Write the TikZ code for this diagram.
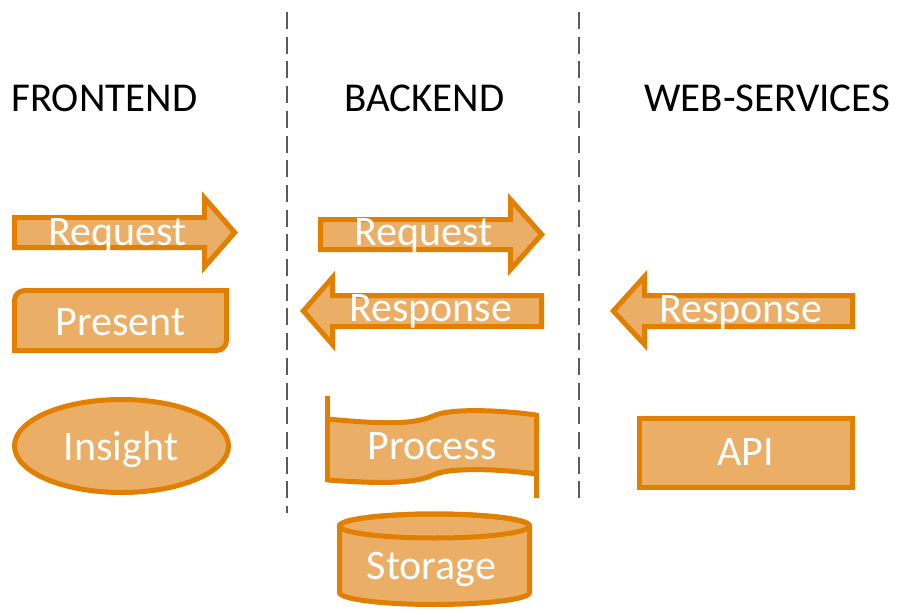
\documentclass[tikz,border=0pt]{standalone}
\usepackage{fontspec}
\setmainfont{Carlito}
\definecolor{ofill}{RGB}{235,174,102}
\definecolor{oline}{RGB}{224,127,0}
\definecolor{dline}{RGB}{90,90,90}
\tikzset{
  shp/.style={fill=ofill, draw=oline, line width=5pt, line join=miter},
  shpline/.style={draw=oline, line width=5pt},
  lbl/.style={text=white, font=\fontsize{42}{50}\selectfont, inner sep=0pt, anchor=base},
  hdr/.style={text=black, font=\fontsize{41}{49}\selectfont, inner sep=0pt, anchor=base west},
  sepline/.style={draw=dline, line width=2pt, dash pattern=on 17pt off 7.7pt}
}
\begin{document}
\begin{tikzpicture}[x=1pt,y=-1pt]
\useasboundingbox (0,0) rectangle (900,610);

% separators
\coordinate (s1t) at (287,12);
\coordinate (s1b) at (287,513);
\coordinate (s2t) at (579,12);
\coordinate (s2b) at (579,499);
\draw[sepline] (s1t) -- (s1b);
\draw[sepline] (s2t) -- (s2b);

% headers
\node[hdr] (hfront) at (11,111.5) {FRONTEND};
\node[hdr] (hback) at (344,111.5) {BACKEND};
\node[hdr] (hweb) at (644,111) {WEB-SERVICES};

% Frontend request arrow (right)
\path[shp] (14.5,217.5) -- (204.5,217.5) -- (204.5,198) -- (234.7,232.5) -- (204.5,267) -- (204.5,247.5) -- (14.5,247.5) -- cycle;
\node[lbl] (freq) at (117.5,245.5) {Request};

% Present
\path[shp] (14.5,350.5) -- (14.5,300.5) arc[start angle=180, end angle=90, radius=10pt] -- (226.5,290.5) -- (226.5,340.5) arc[start angle=0, end angle=-90, radius=10pt] -- cycle;
\node[lbl] (pres) at (120.5,335.5) {Present};

% Insight
\path[shp] (121.5,446) ellipse[x radius=107pt, y radius=46.5pt];
\node[lbl] (ins) at (121,460.5) {Insight};

% Backend request arrow (right)
\path[shp] (320.5,219.5) -- (510.5,219.5) -- (510.5,199.5) -- (541.7,234.5) -- (510.5,269.5) -- (510.5,249.5) -- (320.5,249.5) -- cycle;
\node[lbl] (breq) at (423.5,245.5) {Request};

% Backend response arrow (left)
\path[shp] (541.5,295.5) -- (332.5,295.5) -- (332.5,277.5) -- (303.3,311) -- (332.5,344.5) -- (332.5,326.5) -- (541.5,326.5) -- cycle;
\node[lbl] (bresp) at (430.5,321.5) {Response};

% Web-services response arrow (left)
\path[shp] (852.5,295.5) -- (644.5,295.5) -- (644.5,276.5) -- (613.3,311) -- (644.5,344.5) -- (644.5,326.5) -- (852.5,326.5) -- cycle;
\node[lbl] (wresp) at (740.5,322.5) {Response};

% API
\path[shp] (639.5,418.5) rectangle (852.5,487.5);
\node[lbl] (api) at (745.5,465.5) {API};

% Process (wave banner)
\path[fill=ofill] (327.5,419) .. controls (370,423) and (412,426) .. (433,416) .. controls (450,408) and (500,410) .. (536,415)
  -- (536,474) .. controls (500,469) and (450,467) .. (433,475) .. controls (412,485) and (370,483) .. (327.5,480) -- cycle;
\draw[shpline] (327.5,419) .. controls (370,423) and (412,426) .. (433,416) .. controls (450,408) and (500,410) .. (536,415);
\draw[shpline] (536,474) .. controls (500,469) and (450,467) .. (433,475) .. controls (412,485) and (370,483) .. (327.5,480);
\draw[shpline] (327.5,396) -- (327.5,482);
\draw[shpline] (536,413) -- (536,498);
\node[lbl] (proc) at (432,459.5) {Process};

% Storage (cylinder)
\path[shp] (339.5,526) -- (339.5,592.5) arc[start angle=180, end angle=360, x radius=95pt, y radius=12pt] -- (529.5,526) arc[start angle=0, end angle=180, x radius=95pt, y radius=12pt] -- cycle;
\draw[shpline] (434.5,526) ellipse[x radius=95pt, y radius=12pt];
\node[lbl] (stor) at (431.5,579.5) {Storage};
\end{tikzpicture}
\end{document}
